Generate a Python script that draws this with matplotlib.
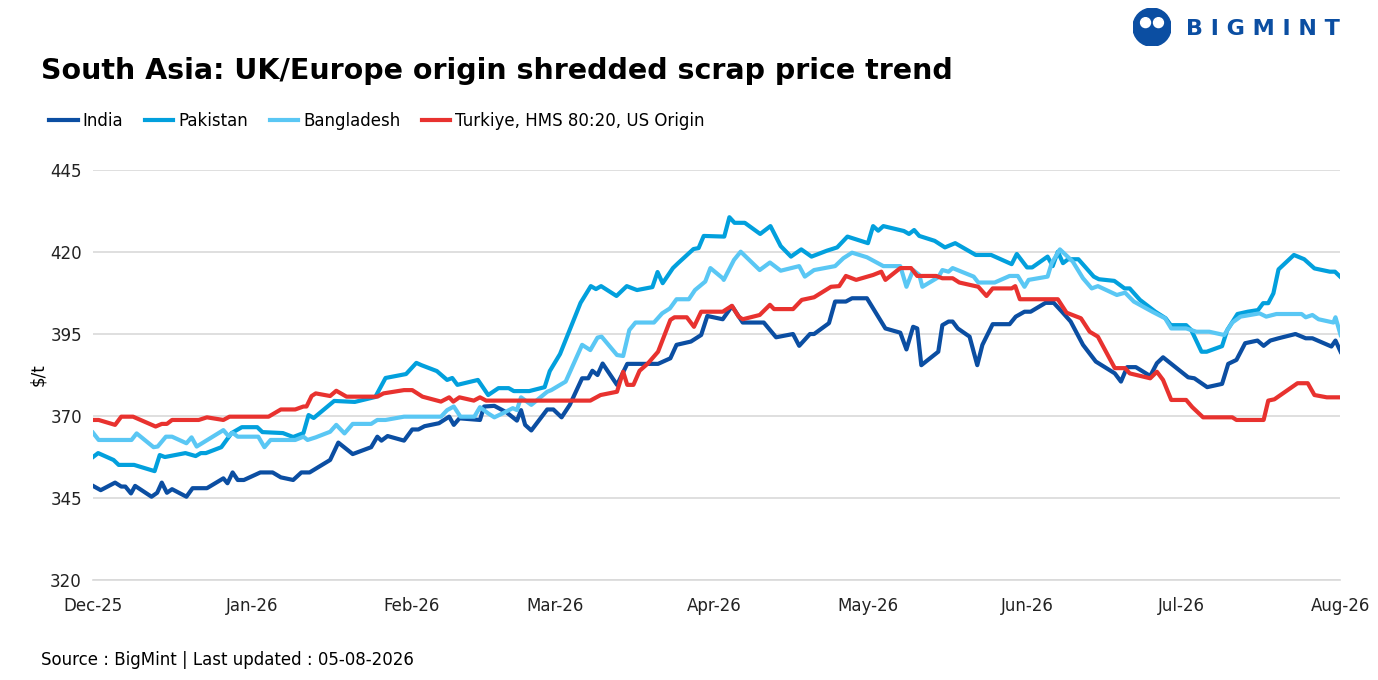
import matplotlib
matplotlib.use("Agg")
import matplotlib.pyplot as plt
from matplotlib.patches import Circle
import pandas as pd
import numpy as np

start = pd.Timestamp("2025-12-01")

india_days = [0,1.5,4.3,5.5,6.3,7.4,8.2,11.4,12.5,13.4,14.4,15.4,18.2,19.4,22.2,25.4,26.2,27.2,28.2,29.4,32.6,35.0,36.6,39.0,40.6,42.2,46.2,47.8,50.6,54.2,55.4,56.2,57.4,60.6,62.2,63.4,64.6,67.4,69.4,70.3,71.4,75.4,76.2,78.2,80.6,82.6,83.4,84.2,85.4,88.5,89.7,91.3,92.9,95.3,96.5,97.3,98.3,99.3,102.1,104.1,110.1,112.5,113.7,116.5,118.5,119.7,122.7,
    124.5,126.6,130.7,133.1,136.4,137.6,139.7,140.5,143.4,144.6,146.7,147.9,150.8,154.4,157.3,158.5,159.8,160.6,161.4,164.7,165.5,166.7,167.5,168.5,170.8,172.3,173.3,175.3,178.6,179.8,181.5,182.7,185.6,187.2,188.8,190.5,192.9,195.4,199.1,200.3,201.5,203.2,206.0,207.3,208.5,213.4,214.6,217.1,220.0,221.2,222.8,224.5,226.9,228.1,229.4,231.0,234.3,236.3,237.6,241.3,242.1,243.1]
india_vals = [348.7,347.4,349.7,348.5,348.5,346.4,348.7,345.4,346.6,349.7,346.6,347.7,345.4,348.0,348.0,351.0,349.5,352.8,350.5,350.5,352.8,352.8,351.3,350.5,352.8,352.8,356.6,361.9,358.4,360.5,363.7,362.5,363.9,362.5,365.9,365.9,366.9,367.8,369.8,367.3,369.3,368.8,372.9,373.1,371.1,368.6,371.8,367.3,365.6,372.0,372.0,369.6,373.4,381.5,381.5,383.8,382.5,386.0,379.5,385.9,385.9,387.6,391.7,392.7,394.7,400.5,399.5,
    403.5,398.5,398.5,394.0,395.0,391.4,395.0,395.0,398.3,404.9,404.9,405.9,405.9,396.7,395.4,390.3,397.2,396.7,385.5,389.6,397.7,398.8,398.8,396.7,394.2,385.5,391.7,398.0,398.0,400.3,401.8,401.8,404.5,404.5,401.8,398.8,391.7,386.6,383.0,380.5,384.9,384.9,382.2,386.1,387.9,381.8,381.5,378.8,379.8,385.9,387.1,392.2,393.0,391.4,393.0,393.7,395.0,393.7,393.7,391.2,393.0,389.6]

pak_days = [0,1,4,5,8,12,13,14,18,20,21,22,25,27,29,32,33,37,39,41,42,43,47,51,55,57,61,63,64,67,69,70,71,75,77,79,81,82,85,88,89,91,95,97,98,99,102,104,106,109,110,111,113,114,117,118,119,
    123,124,125,127,130,132,134,136,138,140,143,145,147,151,152,153,154,158,159,160,161,164,166,168,172,175,179,180,182,183,186,187,188,189,190,192,195,196,199,201,202,204,207,209,210,213,214,216,217,220,221,223,225,227,228,229,230,231,234,236,238,241,242,243]
pak_vals = [357.5,358.7,356.6,355.1,355.1,353.2,358.1,357.5,358.7,357.8,358.7,358.7,360.5,364.8,366.6,366.6,365.1,364.8,363.6,364.8,370.3,369.4,374.6,374.3,375.8,381.6,382.8,386.2,385.5,383.7,381.0,381.6,379.5,381.0,376.4,378.5,378.5,377.6,377.6,378.8,383.7,388.9,404.5,409.6,408.7,409.6,406.6,409.6,408.4,409.3,413.9,410.5,415.1,416.6,420.9,421.2,424.9,
    424.7,430.6,428.9,428.9,425.5,427.9,421.8,418.6,420.8,418.6,420.4,421.4,424.7,422.7,427.9,426.5,427.9,426.4,425.5,426.7,424.9,423.4,421.4,422.7,419.1,419.1,416.3,419.4,415.3,415.3,418.6,415.7,420.1,416.6,417.8,417.8,412.5,411.7,411.2,408.9,408.9,405.4,401.8,399.8,397.7,397.7,396.2,389.6,389.6,391.3,396.2,401.1,401.8,402.3,404.4,404.4,407.4,414.7,419.1,417.8,415.0,414.0,414.0,412.5]

bd_days = [0,1.1,7.5,8.5,11.8,12.6,14.2,15.4,18.2,19.2,20.2,25.4,26.4,27.2,28.2,32.2,33.4,34.6,39.4,41.0,41.8,43.4,46.2,47.4,49.0,50.6,54.2,55.4,57.0,60.6,67.8,69.0,70.3,71.6,74.3,75.4,77.0,78.2,79.8,81.8,82.6,83.4,85.4,88.5,89.3,92.1,95.3,96.9,98.3,99.1,102.1,103.3,104.5,105.7,109.3,110.9,112.4,113.7,116.1,117.3,119.3,120.3,122.7,
    122.9,124.9,126.2,129.9,131.9,134.0,137.6,138.7,140.5,144.6,146.2,147.9,150.8,154.0,157.3,158.5,159.8,161.0,161.6,164.7,165.5,166.7,167.5,171.6,172.5,175.7,178.6,180.2,181.5,182.3,186.0,186.8,188.4,190.9,192.9,194.6,195.8,199.5,201.1,202.8,206.4,208.9,210.1,213.0,215.0,217.5,220.4,222.0,223.6,227.3,228.6,230.6,235.5,236.3,237.6,238.8,241.7,242.1,243.1]
bd_vals = [364.9,362.7,362.7,364.7,360.5,360.7,363.7,363.7,361.7,363.5,360.7,365.7,363.9,364.9,363.7,363.7,360.5,362.7,362.7,363.7,362.7,363.5,365.2,367.3,364.7,367.6,367.6,368.8,368.8,369.8,369.8,371.8,372.9,369.8,369.8,372.7,370.8,369.6,370.8,372.4,371.8,375.7,373.4,377.4,377.9,380.5,391.7,390.1,393.9,394.2,388.6,388.3,396.2,398.5,398.5,401.3,402.8,405.6,405.6,408.4,411.0,415.1,412.0,
    411.5,417.6,420.1,414.5,416.8,414.3,415.7,412.5,414.5,415.7,418.1,419.8,418.4,415.7,415.7,409.4,414.5,413.0,409.4,412.3,414.5,414.0,415.1,412.5,410.7,410.7,412.7,412.7,409.4,411.5,412.5,416.6,420.8,417.1,412.0,408.9,409.6,406.9,407.6,404.9,401.8,399.8,396.7,396.7,395.7,395.7,394.7,398.5,400.3,401.3,400.3,401.1,401.1,400.1,400.8,399.5,398.5,400.1,394.7]

tur_days = [0,1.1,4.3,5.5,7.8,12.2,13.4,14.4,15.4,20.6,22.2,25.4,26.6,34.2,36.6,39.4,41.0,41.6,42.6,43.4,46.2,47.4,49.4,55.4,56.6,60.6,62.2,64.2,67.8,69.4,70.2,71.4,74.2,75.4,76.6,96.9,98.9,102.1,103.3,104.1,105.3,106.5,108.1,110.1,112.5,113.3,115.7,117.1,118.5,122.7,
    124.5,125.8,126.6,129.9,131.9,132.7,136.4,138.1,140.5,143.8,145.4,146.7,148.7,152.0,153.6,154.4,157.3,159.4,160.6,164.3,165.5,167.5,168.8,172.5,174.1,175.3,179.0,179.7,180.6,188.0,189.7,192.5,194.2,195.8,199.1,201.1,202.0,206.0,207.3,208.5,210.1,213.0,214.2,216.3,222.0,222.8,228.1,229.0,230.2,234.7,236.7,238.0,240.4,243.1]
tur_vals = [368.8,368.8,367.3,369.8,369.8,366.8,367.6,367.6,368.8,368.8,369.6,368.8,369.8,369.8,372.0,372.0,372.9,372.9,376.1,376.9,376.1,377.7,375.9,375.9,376.9,377.9,377.9,375.9,374.4,375.7,374.4,375.7,374.7,375.7,374.7,374.7,376.4,377.4,383.5,379.5,379.5,383.8,386.0,389.6,399.3,400.1,400.1,397.2,401.8,401.8,
    403.6,400.3,399.5,400.8,403.9,402.6,402.6,405.4,406.2,409.4,409.6,412.7,411.5,413.0,414.0,411.5,415.1,415.1,412.7,412.7,412.0,412.0,410.7,409.4,406.6,408.9,408.9,409.6,405.6,405.6,401.5,399.8,395.7,394.2,384.6,384.6,383.0,381.5,383.5,381.0,374.9,374.9,372.7,369.6,369.6,368.8,368.8,374.7,375.1,380.0,380.0,376.4,375.7,375.7]

series = [
    ("India", india_days, india_vals, "#0b4ea2"),
    ("Pakistan", pak_days, pak_vals, "#02a0dd"),
    ("Bangladesh", bd_days, bd_vals, "#5ac7f4"),
    ("Turkiye, HMS 80:20, US Origin", tur_days, tur_vals, "#e8322f"),
]
month_ticks = ["2025-12-01","2026-01-01","2026-02-01","2026-03-01","2026-04-01","2026-05-01","2026-06-01","2026-07-01","2026-08-01"]
month_labels = ["Dec-25","Jan-26","Feb-26","Mar-26","Apr-26","May-26","Jun-26","Jul-26","Aug-26"]
y_ticks = [320,345,370,395,420,445]

plt.rcParams['font.family'] = ['DejaVu Sans']
fig = plt.figure(figsize=(13.78, 6.8), dpi=100)
ax = fig.add_axes([0.0675, 0.147, 0.905, 0.603])
handles = []
for name, d, v, c in series:
    dates = start + pd.to_timedelta(np.array(d), unit="D")
    h, = ax.plot(dates, v, color=c, lw=3.0, solid_joinstyle='round', label=name)
    handles.append(h)

ax.set_xlim(pd.Timestamp(month_ticks[0]), pd.Timestamp(month_ticks[-1]))
ax.set_ylim(320, 445)
ax.set_yticks(y_ticks)
ax.set_xticks([pd.Timestamp(t) for t in month_ticks])
ax.set_xticklabels(month_labels)
ax.grid(axis='y', color='#d9d9d9', lw=1.2)
ax.set_axisbelow(True)
for s in ['top', 'right', 'left']:
    ax.spines[s].set_visible(False)
ax.spines['bottom'].set_color('#d9d9d9')
ax.spines['bottom'].set_linewidth(1.2)
ax.tick_params(axis='both', length=0, labelsize=12, colors='#222222')
ax.tick_params(axis='x', pad=12)
ax.tick_params(axis='y', pad=8)
ax.set_ylabel("$/t", fontsize=12, labelpad=2)

fig.text(0.03, 0.895, "South Asia: UK/Europe origin shredded scrap price trend",
         fontsize=20.5, fontweight='bold', va='center', ha='left')
fig.legend(handles=handles, loc='center left', bbox_to_anchor=(0.025, 0.822), ncol=4,
           frameon=False, fontsize=12, handlelength=1.7, handletextpad=0.3, columnspacing=1.3)
fig.text(0.03, 0.03, "Source : BigMint | Last updated : 05-08-2026", fontsize=12, va='center')

# logo
fig.text(0.861, 0.958, "B I G M I N T", fontsize=16, fontweight='bold', color='#0b4ea2', va='center', ha='left')
lax = fig.add_axes([0.822, 0.932, 0.028, 0.056])
lax.set_xlim(0, 1); lax.set_ylim(0, 1); lax.set_aspect('equal'); lax.axis('off')
lax.add_patch(Circle((0.5, 0.5), 0.5, color='#0b4ea2'))
lax.add_patch(Circle((0.33, 0.62), 0.13, color='white'))
lax.add_patch(Circle((0.67, 0.62), 0.13, color='white'))

fig.savefig("out.png", dpi=100)
